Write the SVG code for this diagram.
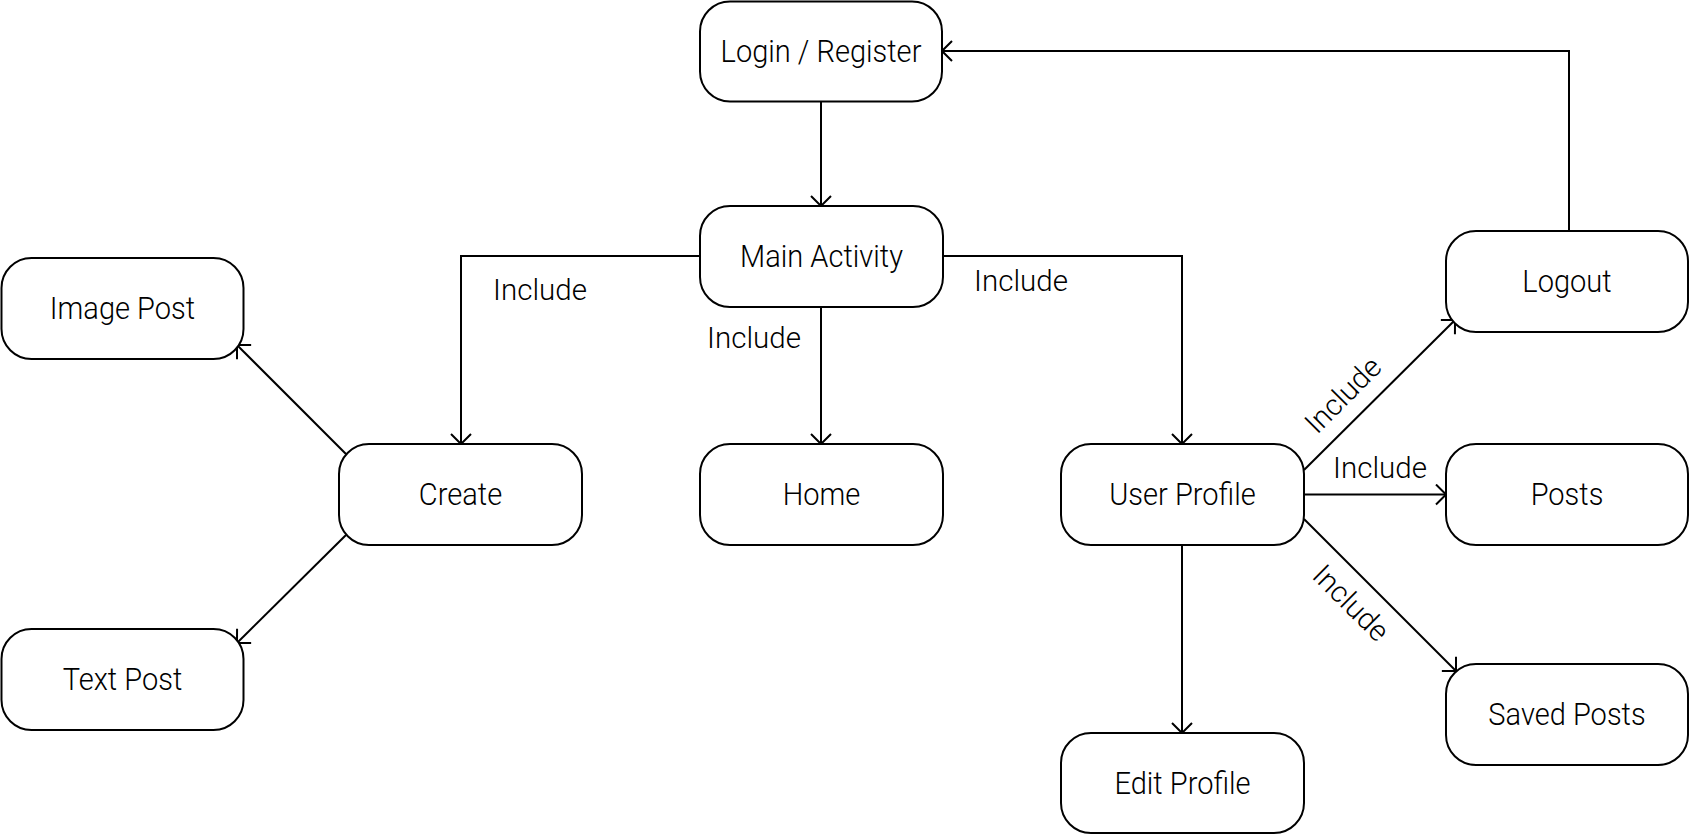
<svg xmlns="http://www.w3.org/2000/svg" width="1690" height="835" viewBox="0 0 1690 835">
<style>
.node rect{fill:#fff;stroke:#000;stroke-width:2}
.node text{font-family:Roboto,"Liberation Sans",sans-serif;font-weight:300;font-size:31.4px;fill:#000;text-anchor:middle}
.edge{fill:none;stroke:#000;stroke-width:2}
.lbl{font-family:Roboto,"Liberation Sans",sans-serif;font-weight:300;font-size:29.5px;fill:#000;text-anchor:middle}
.rl{dominant-baseline:central}
</style>
<defs>
<marker id="arr" markerUnits="userSpaceOnUse" viewBox="0 0 12 22" markerWidth="12" markerHeight="22" refX="11" refY="11" orient="auto">
<path d="M1,1 L11,11 L1,21" fill="none" stroke="#000" stroke-width="2"/>
</marker>
</defs>
<g id="connectors">
<path class="edge" d="M821,101 L821,206" marker-end="url(#arr)"/>
<path class="edge" d="M700,256 L461,256 L461,444" marker-end="url(#arr)"/>
<path class="edge" d="M821,307 L821,444" marker-end="url(#arr)"/>
<path class="edge" d="M943,256 L1182,256 L1182,444" marker-end="url(#arr)"/>
<path class="edge" d="M1304,470 L1455,320" marker-end="url(#arr)"/>
<path class="edge" d="M1304,494.5 L1446,494.5" marker-end="url(#arr)"/>
<path class="edge" d="M1304,519 L1456,671" marker-end="url(#arr)"/>
<path class="edge" d="M1182,545 L1182,733" marker-end="url(#arr)"/>
<path class="edge" d="M346,454 L237,345" marker-end="url(#arr)"/>
<path class="edge" d="M346,535 L237,643" marker-end="url(#arr)"/>
<path class="edge" d="M1569,231 L1569,51 L942,51" marker-end="url(#arr)"/>
<text class="lbl" x="540" y="300">Include</text>
<text class="lbl" x="754" y="348.3">Include</text>
<text class="lbl" x="1021" y="290.7">Include</text>
<text class="lbl" x="1380" y="478.3">Include</text>
<text class="lbl rl" transform="translate(1343,395) rotate(-45)">Include</text>
<text class="lbl rl" transform="translate(1351,603) rotate(45)">Include</text>
</g>
<g id="login" class="node"><rect x="700" y="1.5" width="242" height="100" rx="30"/><text transform="translate(821,62.2) scale(0.925,1)">Login / Register</text></g>
<g id="main" class="node"><rect x="700" y="206" width="243" height="101" rx="30"/><text transform="translate(821.5,267.2) scale(0.925,1)">Main Activity</text></g>
<g id="imagepost" class="node"><rect x="1.5" y="258" width="242" height="101" rx="30"/><text transform="translate(122.5,319.2) scale(0.925,1)">Image Post</text></g>
<g id="create" class="node"><rect x="339" y="444" width="243" height="101" rx="30"/><text transform="translate(460.5,505.2) scale(0.925,1)">Create</text></g>
<g id="home" class="node"><rect x="700" y="444" width="243" height="101" rx="30"/><text transform="translate(821.5,505.2) scale(0.925,1)">Home</text></g>
<g id="userprofile" class="node"><rect x="1061" y="444" width="243" height="101" rx="30"/><text transform="translate(1182.5,505.2) scale(0.925,1)">User Profile</text></g>
<g id="logout" class="node"><rect x="1446" y="231" width="242" height="101" rx="30"/><text transform="translate(1567,292.2) scale(0.925,1)">Logout</text></g>
<g id="posts" class="node"><rect x="1446" y="444" width="242" height="101" rx="30"/><text transform="translate(1567,505.2) scale(0.925,1)">Posts</text></g>
<g id="savedposts" class="node"><rect x="1446" y="664" width="242" height="101" rx="30"/><text transform="translate(1567,725.2) scale(0.925,1)">Saved Posts</text></g>
<g id="editprofile" class="node"><rect x="1061" y="733" width="243" height="100" rx="30"/><text transform="translate(1182.5,793.7) scale(0.925,1)">Edit Profile</text></g>
<g id="textpost" class="node"><rect x="1.5" y="629" width="242" height="101" rx="30"/><text transform="translate(122.5,690.2) scale(0.925,1)">Text Post</text></g>
</svg>
